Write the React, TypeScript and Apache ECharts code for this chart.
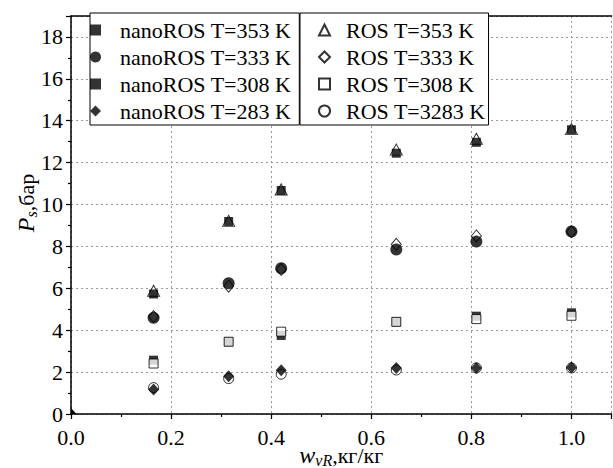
import React, { useEffect, useRef } from "react";
import * as echarts from "echarts";

const xValues = [0.165, 0.315, 0.42, 0.65, 0.81, 1.0];
const nano353 = [5.73, 9.19, 10.67, 12.45, 12.97, 13.57];
const ros353 = [5.88, 9.22, 10.72, 12.62, 13.14, 13.6];
const nano333 = [4.59, 6.24, 6.96, 7.85, 8.23, 8.71];
const ros333 = [4.65, 6.1, 6.9, 8.1, 8.5, 8.7];
const nano308 = [2.57, 3.45, 3.75, 4.4, 4.67, 4.83];
const ros308 = [2.41, 3.45, 3.93, 4.4, 4.53, 4.69];
const nano283 = [1.17, 1.8, 2.09, 2.2, 2.2, 2.22];
const ros283 = [1.26, 1.69, 1.9, 2.1, 2.2, 2.2];
const originPoint = [0, 0];

const nanoNames = ["nanoROS T=353 K", "nanoROS T=333 K", "nanoROS T=308 K", "nanoROS T=283 K"];
const rosNames = ["ROS T=353 K", "ROS T=333 K", "ROS T=308 K", "ROS T=3283 K"];

const FONT = "'Liberation Serif', 'Times New Roman', serif";

const pts = (vals: number[]) => xValues.map((x, i) => [x, vals[i]]);

export default function App() {
  const ref = useRef<HTMLDivElement>(null);
  useEffect(() => {
    if (!ref.current) return;
    const chart = echarts.init(ref.current, undefined, { renderer: "svg" });
    const filled = { color: "#000" };
    const open = { color: "#fff", borderColor: "#000", borderWidth: 1 };
    const legendBase = {
      orient: "vertical",
      top: 13,
      itemGap: 5,
      itemWidth: 11,
      itemHeight: 11,
      borderColor: "#000",
      borderWidth: 1,
      borderRadius: 0,
      backgroundColor: "#fff",
      selectedMode: false,
    };
    const nameRich = {
      i: { fontFamily: FONT, fontSize: 24, fontStyle: "italic", color: "#000", lineHeight: 26 },
      sub: { fontFamily: FONT, fontSize: 16, fontStyle: "italic", color: "#000", lineHeight: 12, verticalAlign: "bottom" },
      n: { fontFamily: FONT, fontSize: 22, color: "#000", lineHeight: 26 },
    };
    chart.setOption({
      animation: false,
      backgroundColor: "#fff",
      textStyle: { fontFamily: FONT },
      grid: { left: 71, right: 1.5, top: 16, bottom: 54, containLabel: false, outerBoundsMode: "none" },
      legend: [
        {
          ...legendBase,
          left: 90,
          padding: [6, 8, 3, 0],
          data: nanoNames,
          textStyle: { fontFamily: FONT, fontSize: 22, color: "#000", padding: [0, 0, 0, 14] },
        },
        {
          ...legendBase,
          left: 300,
          padding: [6, 3, 3, 18],
          data: rosNames,
          textStyle: { fontFamily: FONT, fontSize: 22, color: "#000", padding: [0, 0, 0, 11] },
        },
      ],
      xAxis: [
        {
          type: "value",
          min: 0,
          max: 1.08,
          interval: 0.2,
          position: "bottom",
          name: "{i|w}{sub|vR}{n|,кг/кг}",
          nameLocation: "middle",
          nameGap: 28,
          nameMoveOverlap: false,
          nameTextStyle: { rich: nameRich },
          axisLine: { show: true, lineStyle: { color: "#000", width: 1.5 } },
          axisTick: { show: true, inside: false, length: 5, lineStyle: { color: "#000", width: 1.2 } },
          minorTick: { show: true, splitNumber: 2, length: 3, lineStyle: { color: "#000", width: 1.2 } },
          axisLabel: {
            fontFamily: FONT,
            fontSize: 22,
            color: "#000",
            margin: 12,
            showMaxLabel: false,
            formatter: (v: number) => v.toFixed(1),
          },
          splitLine: { show: true, lineStyle: { color: "#999", type: [2, 3], width: 1 } },
        },
        {
          type: "value",
          min: 0,
          max: 1.08,
          interval: 0.2,
          position: "top",
          axisLine: { show: true, lineStyle: { color: "#000", width: 1.5 } },
          axisTick: { show: false },
          axisLabel: { show: false },
          splitLine: { show: false },
        },
      ],
      yAxis: {
        type: "value",
        min: 0,
        max: 19,
        interval: 2,
        name: "{i|P}{sub|s}{n|,бар}",
        nameLocation: "middle",
        nameRotate: 90,
        nameGap: 32,
        nameMoveOverlap: false,
        nameTextStyle: { rich: nameRich, padding: [0, 0, 0, 24] },
        axisLine: { show: true, lineStyle: { color: "#000", width: 1.5 } },
        axisTick: { show: true, inside: false, length: 5, lineStyle: { color: "#000", width: 1.2 } },
        minorTick: { show: true, splitNumber: 2, length: 3, lineStyle: { color: "#000", width: 1.2 } },
        axisLabel: { fontFamily: FONT, fontSize: 22, color: "#000", margin: 8, showMaxLabel: false },
        splitLine: { show: true, lineStyle: { color: "#999", type: [2, 3], width: 1 } },
      },
      series: [
        { name: rosNames[0], type: "scatter", symbol: "triangle", symbolSize: [12, 11], itemStyle: open, data: pts(ros353), z: 2 },
        { name: nanoNames[0], type: "scatter", symbol: "rect", symbolSize: 9, itemStyle: filled, data: pts(nano353), z: 3 },
        { name: rosNames[1], type: "scatter", symbol: "diamond", symbolSize: [10, 12], itemStyle: open, data: pts(ros333), z: 2 },
        { name: nanoNames[1], type: "scatter", symbol: "circle", symbolSize: 12, itemStyle: filled, data: pts(nano333), z: 3 },
        { name: nanoNames[2], type: "scatter", symbol: "rect", symbolSize: 9, itemStyle: filled, data: pts(nano308), z: 2 },
        { name: rosNames[2], type: "scatter", symbol: "rect", symbolSize: 9, itemStyle: open, data: pts(ros308), z: 3 },
        { name: rosNames[3], type: "scatter", symbol: "circle", symbolSize: 10, itemStyle: open, data: pts(ros283), z: 2 },
        { name: nanoNames[3], type: "scatter", symbol: "diamond", symbolSize: [11, 12], itemStyle: filled, data: pts(nano283), z: 3 },
        {
          name: "origin",
          type: "custom",
          z: 3,
          data: [originPoint],
          encode: { x: 0, y: 1 },
          renderItem: (_params: any, api: any) => {
            const p = api.coord([api.value(0), api.value(1)]);
            return {
              type: "polygon",
              shape: { points: [[p[0], p[1]], [p[0], p[1] - 6], [p[0] + 5.5, p[1]]] },
              style: { fill: "#000" },
            };
          },
        },
      ],
    });
    return () => chart.dispose();
  }, []);
  return (
    <div
      ref={ref}
      style={{ position: "absolute", left: 0, top: 0, width: 613, height: 468, background: "#fff" }}
    />
  );
}
